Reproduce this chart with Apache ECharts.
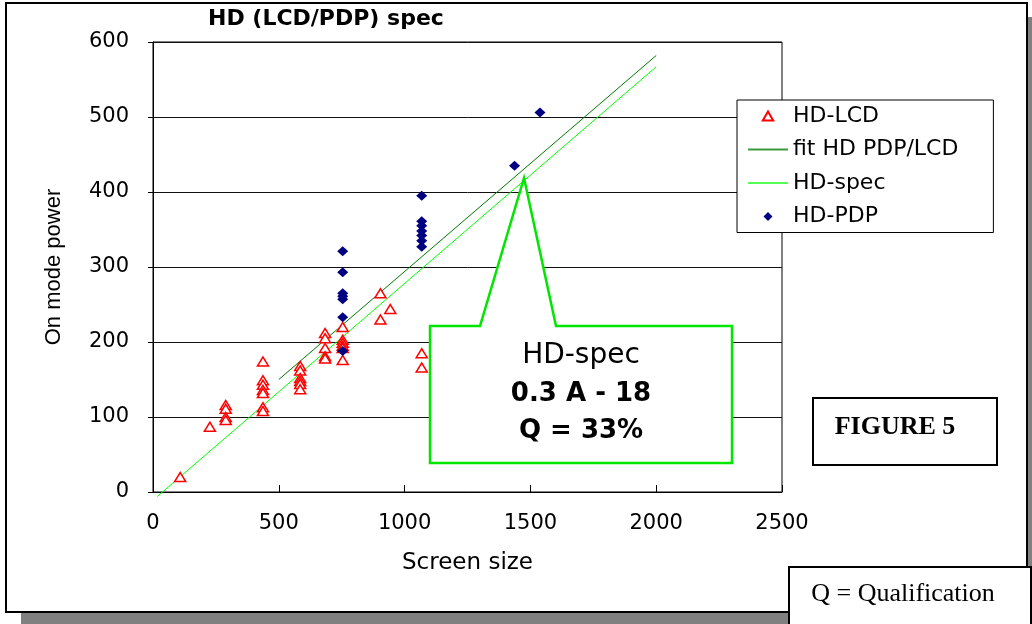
<!DOCTYPE html>
<html><head><meta charset="utf-8">
<script src="https://cdn.jsdelivr.net/npm/echarts@6/dist/echarts.min.js"></script>
<style>html,body{margin:0;padding:0;background:#fff}#c{width:1032px;height:624px}</style>
</head><body><div id="c"></div>
<script>
// HD-LCD points (screen size, on mode power)
const lcdSize  = [108, 226, 289, 289, 289, 289, 437, 437, 437, 437, 437, 437, 437, 585, 585, 585, 585, 585, 585, 684, 684, 684, 684, 684, 754, 754, 754, 754, 754, 754, 904, 904, 943, 1068, 1068];
const lcdPower = [20, 87, 116, 111, 100, 96, 174, 149, 143, 136, 132, 113, 108, 168, 162, 152, 148, 144, 137, 212, 205, 192, 181, 178, 220, 203, 199, 195, 192, 176, 265, 230, 244, 185, 166];
// HD-PDP points
const pdpSize  = [754, 754, 754, 754, 754, 754, 754, 1068, 1068, 1068, 1068, 1068, 1068, 1068, 1437, 1538];
const pdpPower = [321, 293, 265, 261, 257, 233, 188, 395, 361, 355, 348, 342, 335, 327, 435, 506];
// fit HD PDP/LCD line end points
const fitSize  = [500, 2000];
const fitPower = [150, 582];
// HD-spec line end points
const specSize  = [17, 2000];
const specPower = [-6, 567];
// axes
const xTicks = [0, 500, 1000, 1500, 2000, 2500];
const yTicks = [0, 100, 200, 300, 400, 500, 600];

const zip = (a, b) => a.map((v, i) => [v, b[i]]);
const FONT = 'DejaVu Sans';
const green = '#00e600';
const hidden = {color: 'rgba(0,0,0,0)', borderWidth: 0};

const chart = echarts.init(document.getElementById('c'), null, {renderer: 'canvas'});
chart.setOption({
  animation: false,
  backgroundColor: '#fff',
  title: {
    text: 'HD (LCD/PDP) spec',
    left: 208, top: 8, padding: 0,
    textStyle: {fontFamily: FONT, fontWeight: 'bold', fontSize: 22, color: '#000'}
  },
  grid: {left: 153, right: 250, top: 42, bottom: 132, show: true, borderColor: '#000', borderWidth: 1, backgroundColor: 'transparent'},
  xAxis: {
    type: 'value', min: xTicks[0], max: xTicks[xTicks.length - 1], interval: xTicks[1] - xTicks[0],
    name: 'Screen size', nameLocation: 'middle', nameGap: 60,
    nameTextStyle: {fontFamily: FONT, fontSize: 23, color: '#000'},
    axisLine: {show: true, lineStyle: {color: '#000', width: 1}},
    axisTick: {show: true, inside: true, length: 7, lineStyle: {color: '#000'}},
    axisLabel: {fontFamily: FONT, fontSize: 21, color: '#000', margin: 21, formatter: v => String(v)},
    splitLine: {show: false}
  },
  yAxis: {
    type: 'value', min: yTicks[0], max: yTicks[yTicks.length - 1], interval: yTicks[1] - yTicks[0],
    name: 'On mode power', nameLocation: 'middle', nameGap: 88,
    nameTextStyle: {fontFamily: 'Liberation Sans', fontSize: 22, color: '#000'},
    axisLine: {show: true, lineStyle: {color: '#000', width: 1}},
    axisTick: {show: true, inside: false, length: 5, lineStyle: {color: '#000'}},
    axisLabel: {fontFamily: FONT, fontSize: 21, color: '#000', margin: 24, formatter: v => String(v)},
    splitLine: {show: true, lineStyle: {color: '#111', width: 1}}
  },
  legend: {
    orient: 'vertical', left: 737, top: 100,
    padding: [5, 35, 5, 10], itemGap: 11.5,
    itemWidth: 40, itemHeight: 9,
    symbolKeepAspect: true,
    backgroundColor: '#fff', borderColor: '#000', borderWidth: 1, borderRadius: 0,
    textStyle: {fontFamily: FONT, fontSize: 22, color: '#000'},
    data: [
      {name: 'HD-LCD', icon: 'path://M5,0L10,8.66L0,8.66Z'},
      {name: 'fit HD PDP/LCD', itemStyle: hidden, lineStyle: {color: '#3c9a3c', width: 2}},
      {name: 'HD-spec', itemStyle: hidden, lineStyle: {color: '#55ff55', width: 2}},
      {name: 'HD-PDP', icon: 'path://M5,0L10,5L5,10L0,5Z'}
    ]
  },
  series: [
    {
      name: 'HD-LCD', type: 'scatter', symbol: 'triangle', symbolSize: [11, 9],
      itemStyle: {color: '#fff', borderColor: '#ff0000', borderWidth: 1.5, opacity: 1},
      data: zip(lcdSize, lcdPower), z: 3
    },
    {
      name: 'fit HD PDP/LCD', type: 'line', symbol: 'none', showSymbol: false,
      lineStyle: {color: '#007a00', width: 1}, itemStyle: {color: '#007a00'},
      data: zip(fitSize, fitPower), z: 2
    },
    {
      name: 'HD-spec', type: 'line', symbol: 'none', showSymbol: false, clip: false,
      lineStyle: {color: '#00ff00', width: 1}, itemStyle: {color: '#00ff00'},
      data: zip(specSize, specPower), z: 2
    },
    {
      name: 'HD-PDP', type: 'scatter', symbol: 'diamond', symbolSize: [11, 10],
      itemStyle: {color: '#000080', opacity: 1},
      data: zip(pdpSize, pdpPower), z: 4
    }
  ],
  graphic: [
    {type: 'rect', z: -10, shape: {x: 21, y: 17, width: 1011, height: 607}, style: {fill: '#808080'}},
    {type: 'rect', z: -9, shape: {x: 6, y: 3, width: 1021, height: 609}, style: {fill: '#fff', stroke: '#000', lineWidth: 2}},
    {type: 'polygon', z: 50, shape: {points: [[430, 326], [480, 326], [524, 178], [556, 326], [732, 326], [732, 463], [430, 463]]},
      style: {fill: '#fff', stroke: green, lineWidth: 2.5}},
    {type: 'text', z: 51, style: {text: 'HD-spec', x: 581, y: 356, textAlign: 'center', textVerticalAlign: 'middle', fontFamily: FONT, fontSize: 28, fill: '#000'}},
    {type: 'text', z: 51, style: {text: '0.3 A - 18', x: 581, y: 394, textAlign: 'center', textVerticalAlign: 'middle', fontFamily: FONT, fontWeight: 'bold', fontSize: 26, fill: '#000'}},
    {type: 'text', z: 51, style: {text: 'Q = 33%', x: 581, y: 431, textAlign: 'center', textVerticalAlign: 'middle', fontFamily: FONT, fontWeight: 'bold', fontSize: 26, fill: '#000'}},
    {type: 'rect', z: 50, shape: {x: 813, y: 398, width: 184, height: 67}, style: {fill: '#fff', stroke: '#000', lineWidth: 2}},
    {type: 'text', z: 51, style: {text: 'FIGURE 5', x: 895, y: 427, textAlign: 'center', textVerticalAlign: 'middle', fontFamily: 'Liberation Serif', fontWeight: 'bold', fontSize: 26, fill: '#000'}},
    {type: 'rect', z: 50, shape: {x: 789, y: 567, width: 242, height: 70}, style: {fill: '#fff', stroke: '#000', lineWidth: 2}},
    {type: 'text', z: 51, style: {text: 'Q = Qualification', x: 903, y: 594, textAlign: 'center', textVerticalAlign: 'middle', fontFamily: 'Liberation Serif', fontSize: 26, fill: '#000'}}
  ]
});
</script>
</body></html>
